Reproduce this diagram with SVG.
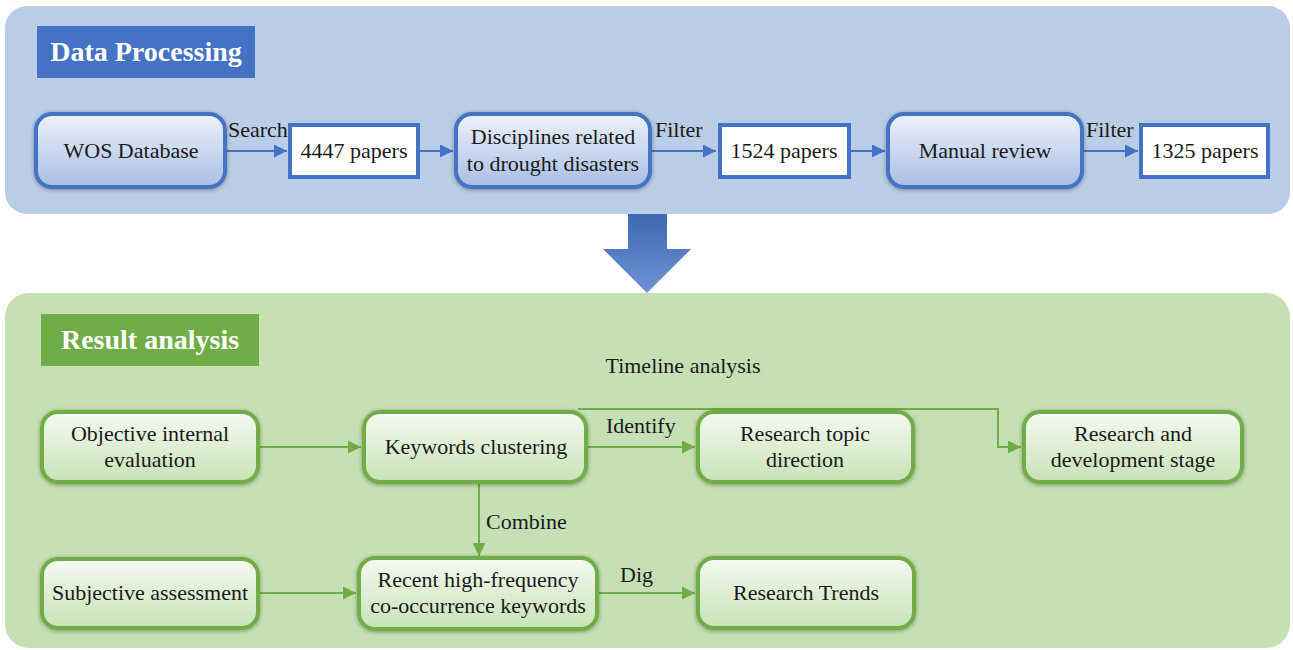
<svg xmlns="http://www.w3.org/2000/svg" width="1293" height="650" viewBox="0 0 1293 650">
<defs>
<linearGradient id="gb" x1="0" y1="0" x2="0" y2="1"><stop offset="0" stop-color="#eef2fa"/><stop offset="1" stop-color="#a8bee4"/></linearGradient>
<linearGradient id="gg" x1="0" y1="0" x2="0" y2="1"><stop offset="0" stop-color="#f5faf2"/><stop offset="1" stop-color="#c8e2b6"/></linearGradient>
<linearGradient id="ga" x1="0" y1="0" x2="0" y2="1"><stop offset="0" stop-color="#3f68b2"/><stop offset="1" stop-color="#6e93d4"/></linearGradient>
<filter id="sh" x="-10%" y="-15%" width="120%" height="135%"><feGaussianBlur in="SourceAlpha" stdDeviation="2"/><feOffset dx="0" dy="1" result="b"/><feComponentTransfer><feFuncA type="linear" slope="0.35"/></feComponentTransfer><feMerge><feMergeNode/><feMergeNode in="SourceGraphic"/></feMerge></filter>
<marker id="ab" viewBox="0 0 10 10" refX="10" refY="5" markerWidth="7" markerHeight="6.5" orient="auto" markerUnits="strokeWidth"><path d="M0,0 L10,5 L0,10 z" fill="#4472c4"/></marker>
<marker id="ag" viewBox="0 0 10 10" refX="10" refY="5" markerWidth="7" markerHeight="6.5" orient="auto" markerUnits="strokeWidth"><path d="M0,0 L10,5 L0,10 z" fill="#70ad47"/></marker>
</defs>
<style>
text{font-family:"Liberation Serif","Times New Roman",serif;fill:#1a1a1a;font-size:22px;text-anchor:middle}
.title{font-weight:bold;font-size:28px;fill:#ffffff}
.bn{fill:url(#gb);stroke:#4472c4;stroke-width:4;filter:url(#sh)}
.bp{fill:#ffffff;stroke:#4472c4;stroke-width:4}
.gn{fill:url(#gg);stroke:#70ad47;stroke-width:4;filter:url(#sh)}
.cb{fill:none;stroke:#4472c4;stroke-width:2;marker-end:url(#ab)}
.cg{fill:none;stroke:#70ad47;stroke-width:2;marker-end:url(#ag)}
.lbl{text-anchor:start}
</style>
<rect width="1293" height="650" fill="#ffffff"/>
<g id="panel-top">
<rect x="5" y="6" width="1285" height="208" rx="22" fill="#b9cde6"/>
<rect x="37" y="26" width="218" height="52" fill="#4472c4"/>
<text class="title" x="146" y="61">Data Processing</text>
</g>
<g id="big-arrow">
<path d="M628,214 L667,214 L667,249 L691,249 L647,293 L603,249 L628,249 Z" fill="url(#ga)"/>
</g>
<g id="panel-bottom">
<rect x="5" y="293" width="1285" height="355" rx="24" fill="#c5e0b4"/>
<rect x="41" y="314" width="218" height="52" fill="#70ad47"/>
<text class="title" x="150" y="349">Result analysis</text>
</g>
<g id="connectors">
<path class="cb" d="M225,151 L287,151"/>
<path class="cb" d="M418,151 L453,151"/>
<path class="cb" d="M650,151 L716,151"/>
<path class="cb" d="M849,151 L885,151"/>
<path class="cb" d="M1082,151 L1138,151"/>
<path class="cg" d="M258,447 L361,447"/>
<path class="cg" d="M586,447 L695,447"/>
<path class="cg" d="M578,409 L998,409 L998,447 L1021,447"/>
<path class="cg" d="M479,483 L479,556"/>
<path class="cg" d="M258,593 L356,593"/>
<path class="cg" d="M597,593 L695,593"/>
<text class="lbl" x="228" y="137">Search</text>
<text class="lbl" x="655" y="137">Filter</text>
<text class="lbl" x="1086" y="137">Filter</text>
<text x="683" y="373">Timeline analysis</text>
<text class="lbl" x="606" y="433">Identify</text>
<text class="lbl" x="486" y="529">Combine</text>
<text class="lbl" x="620" y="582">Dig</text>
</g>
<g id="n-wos"><rect class="bn" x="36" y="114" width="189" height="73" rx="16"/><text x="131" y="158">WOS Database</text></g>
<g id="n-4447"><rect class="bp" x="290" y="125" width="128" height="52"/><text x="354" y="158">4447 papers</text></g>
<g id="n-disc"><rect class="bn" x="456" y="114" width="194" height="73" rx="16"/><text x="553" y="144">Disciplines related</text><text x="553" y="171">to drought disasters</text></g>
<g id="n-1524"><rect class="bp" x="720" y="125" width="129" height="52"/><text x="784" y="158">1524 papers</text></g>
<g id="n-manual"><rect class="bn" x="888" y="114" width="194" height="73" rx="16"/><text x="985" y="158">Manual review</text></g>
<g id="n-1325"><rect class="bp" x="1141" y="125" width="127" height="52"/><text x="1205" y="158">1325 papers</text></g>
<g id="n-obj"><rect class="gn" x="42" y="412" width="216" height="70" rx="16"/><text x="150" y="441">Objective internal</text><text x="150" y="467">evaluation</text></g>
<g id="n-kw"><rect class="gn" x="364" y="412" width="222" height="70" rx="16"/><text x="476" y="454">Keywords clustering</text></g>
<g id="n-topic"><rect class="gn" x="698" y="412" width="215" height="70" rx="16"/><text x="805" y="441">Research topic</text><text x="805" y="467">direction</text></g>
<g id="n-stage"><rect class="gn" x="1024" y="412" width="218" height="70" rx="16"/><text x="1133" y="441">Research and</text><text x="1133" y="467">development stage</text></g>
<g id="n-subj"><rect class="gn" x="42" y="559" width="216" height="69" rx="16"/><text x="150" y="600">Subjective assessment</text></g>
<g id="n-recent"><rect class="gn" x="359" y="558" width="238" height="71" rx="16"/><text x="478" y="587">Recent high-frequency</text><text x="478" y="613">co-occurrence keywords</text></g>
<g id="n-trends"><rect class="gn" x="698" y="558" width="216" height="70" rx="16"/><text x="806" y="600">Research Trends</text></g>
</svg>
